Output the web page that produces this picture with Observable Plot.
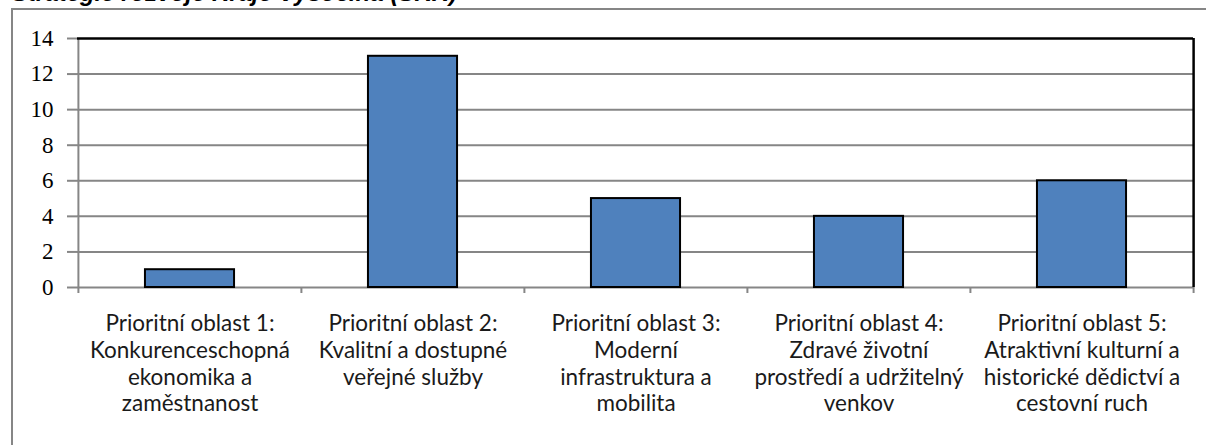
<!DOCTYPE html>
<html><head><meta charset="utf-8">
<script src="https://cdn.jsdelivr.net/npm/d3@7"></script>
<script src="https://cdn.jsdelivr.net/npm/@observablehq/plot@0.6"></script>
<style>
html,body{margin:0;padding:0;background:#fff;overflow:hidden;}
#wrap{position:relative;width:1206px;height:445px;overflow:hidden;}
#frame{position:absolute;left:11px;top:8px;width:1300px;height:600px;border-left:2px solid #868686;border-top:2px solid #868686;}
#title{position:absolute;left:12px;top:-19px;font:italic bold 24px "Liberation Sans",Arial,sans-serif;line-height:24px;white-space:nowrap;color:#000;}
#chart{position:absolute;left:0;top:0;}
</style></head><body>
<div id="wrap"><div id="frame"></div><div id="title">Strategie rozvoje Kraje Vysočina (SRK)</div><div id="chart"></div></div>
<script>
const categories = ["PO1", "PO2", "PO3", "PO4", "PO5"];
const categoryLabels = [
  "Prioritní oblast 1:\nKonkurenceschopná\nekonomika a\nzaměstnanost",
  "Prioritní oblast 2:\nKvalitní a dostupné\nveřejné služby",
  "Prioritní oblast 3:\nModerní\ninfrastruktura a\nmobilita",
  "Prioritní oblast 4:\nZdravé životní\nprostředí a udržitelný\nvenkov",
  "Prioritní oblast 5:\nAtraktivní kulturní a\nhistorické dědictví a\ncestovní ruch"
];
const values = [1, 13, 5, 4, 6];
const yTicks = [0, 2, 4, 6, 8, 10, 12, 14];

const W = 1206, H = 445, mL = 77, mR = 13, mT = 38, mB = 158;
const step = (W - mL - mR) / categories.length;
const barW = step / 2.5;
const inset = (step - barW) / 2;
const data = categories.map((c, i) => ({cat: c, value: values[i]}));
const labelOf = new Map(categories.map((c, i) => [c, categoryLabels[i]]));
const gray = "#868686";

const chart = Plot.plot({
  width: W, height: H,
  marginLeft: mL, marginRight: mR, marginTop: mT, marginBottom: mB,
  style: {background: "transparent", overflow: "visible"},
  x: {domain: categories, padding: 0, axis: null},
  y: {domain: [0, 14], axis: null},
  marks: [
    Plot.gridY(yTicks.filter(t => t > 0 && t < 14), {stroke: gray, strokeOpacity: 1, strokeWidth: 2}),
    Plot.axisY(yTicks, {tickSize: 10, tickPadding: 14, stroke: gray, strokeWidth: 2, strokeOpacity: 1, fontSize: 23, fontFamily: "Liberation Serif", fill: "#000", label: null}),
    Plot.ruleY([0], {stroke: gray, strokeWidth: 2}),
    Plot.ruleX(categories.slice(0, 1), {y1: 0, y2: 14, dx: -step / 2, stroke: gray, strokeWidth: 2}),
    Plot.ruleX(categories, {y1: 0, y2: 0, insetBottom: -6, dx: -step / 2, stroke: gray, strokeWidth: 2}),
    Plot.ruleX(categories.slice(-1), {y1: 0, y2: 0, insetBottom: -6, dx: step / 2, stroke: gray, strokeWidth: 2}),
    Plot.ruleY([14], {stroke: "#000", strokeWidth: 2.5}),
    Plot.ruleX(categories.slice(-1), {y1: 0, y2: 14, dx: step / 2, stroke: "#000", strokeWidth: 2.5}),
    Plot.barY(data, {x: "cat", y: "value", fill: "#4F81BD", stroke: "#000", strokeWidth: 2, insetLeft: inset, insetRight: inset}),
    Plot.axisX({tickSize: 0, tickPadding: 25, tickFormat: d => labelOf.get(d), fontSize: 22.5, fontFamily: "Lato", lineHeight: 1.185, fill: "#1a1a1a", label: null})
  ]
});
document.getElementById("chart").appendChild(chart);
</script>
</body></html>
